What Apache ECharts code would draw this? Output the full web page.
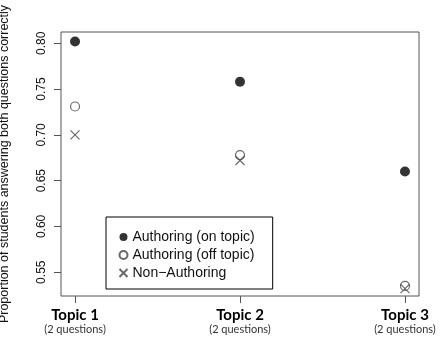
<!DOCTYPE html>
<html>
<head>
<meta charset="utf-8">
<script src="https://cdn.jsdelivr.net/npm/echarts@6/dist/echarts.min.js"></script>
<style>html,body{margin:0;padding:0;background:#fff}#c{width:440px;height:344px}</style>
</head>
<body>
<div id="c"></div>
<script>
var topics = ['Topic 1', 'Topic 2', 'Topic 3'];
var subLabels = ['(2 questions)', '(2 questions)', '(2 questions)'];
var topicPos = [1, 2, 3];
var onTopic = [0.802, 0.758, 0.660];
var offTopic = [0.731, 0.678, 0.535];
var nonAuthoring = [0.700, 0.672, 0.532];
var yTicks = [0.55, 0.60, 0.65, 0.70, 0.75, 0.80];
var seriesNames = ['Authoring (on topic)', 'Authoring (off topic)', 'Non\u2212Authoring'];

function pts(vals) { return vals.map(function (v, i) { return [topicPos[i], v]; }); }

var chart = echarts.init(document.getElementById('c'), null, { renderer: 'canvas' });
var axisColor = '#555';
chart.setOption({
  backgroundColor: '#fff',
  animation: false,
  grid: { left: 61, right: 21, top: 32, bottom: 48, containLabel: false, outerBoundsMode: 'none',
    show: true, borderColor: axisColor, borderWidth: 1, backgroundColor: 'transparent' },
  xAxis: {
    type: 'value', min: 0.915, max: 3.085,
    axisLine: { show: false },
    splitLine: { show: false },
    axisTick: { show: true, length: 7, customValues: topicPos, lineStyle: { color: axisColor } },
    axisLabel: {
      customValues: topicPos, margin: 11,
      formatter: function (v) {
        var i = topicPos.indexOf(Math.round(v));
        return '{t|' + topics[i] + '}\n{s|' + subLabels[i] + '}';
      },
      rich: {
        t: { fontFamily: 'Lato', fontWeight: 'bold', fontSize: 15, color: '#000', lineHeight: 16 },
        s: { fontFamily: 'Lato', fontSize: 11, color: '#333', lineHeight: 13 }
      }
    }
  },
  yAxis: {
    type: 'value', min: 0.524, max: 0.8124,
    name: 'Proportion of students answering both questions correctly',
    nameLocation: 'middle', nameGap: 50, nameRotate: 90,
    nameTextStyle: { fontFamily: 'Liberation Sans', fontSize: 12.5, color: '#111' },
    axisLine: { show: false },
    splitLine: { show: false },
    axisTick: { show: true, length: 7, customValues: yTicks, lineStyle: { color: axisColor } },
    axisLabel: {
      customValues: yTicks, rotate: 90, margin: 13,
      fontFamily: 'Liberation Sans', fontSize: 12, color: '#111',
      formatter: function (v) { return v.toFixed(2); }
    }
  },
  legend: {
    orient: 'vertical', left: 106, top: 217,
    borderColor: '#000', borderWidth: 1, backgroundColor: '#fff',
    padding: [12, 18, 8, 11],
    itemWidth: 8, itemHeight: 8, itemGap: 2,
    textStyle: { fontFamily: 'Liberation Sans', fontSize: 14, color: '#111', lineHeight: 16 },
    data: seriesNames
  },
  series: [
    { name: seriesNames[0], type: 'scatter', symbol: 'circle', symbolSize: 10,
      itemStyle: { color: '#000' }, data: pts(onTopic) },
    { name: seriesNames[1], type: 'scatter', symbol: 'circle', symbolSize: 9,
      itemStyle: { color: '#fff', borderColor: '#444', borderWidth: 1.2 }, data: pts(offTopic) },
    { name: seriesNames[2], type: 'scatter', symbol: 'path://M0,0L10,10M10,0L0,10', symbolSize: 9,
      itemStyle: { color: 'none', borderColor: '#444', borderWidth: 1.2 }, data: pts(nonAuthoring) }
  ]
});
</script>
</body>
</html>
